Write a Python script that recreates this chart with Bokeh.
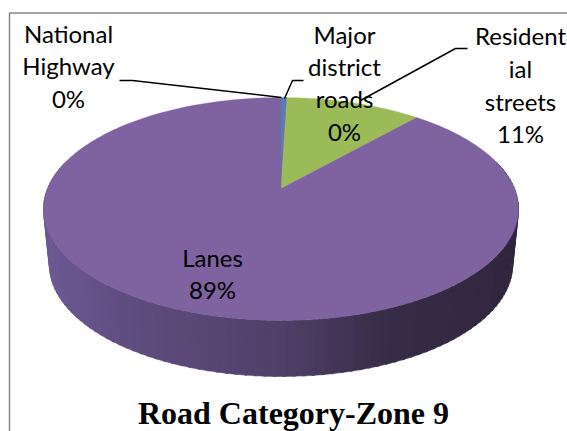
import math
from bokeh.plotting import figure
from bokeh.models import Range1d
from bokeh.core.properties import value
from bokeh.embed import file_html
from bokeh.resources import INLINE

categories = ["National Highway", "Major district roads", "Residential streets", "Lanes"]
values = [0.45, 0.05, 11.0, 88.5]
colors = ["#4F81BD", "#C0504D", "#9BBB59", "#7F63A1"]
title = "Road Category-Zone 9"

label_lines = [["National", "Highway", "0%"], ["Major", "district", "roads", "0%"],
               ["Resident", "ial", "streets", "11%"], ["Lanes", "89%"]]
label_x = [68, 344, 520, 212]
label_y = [[33, 65, 98], [34, 66, 98, 131], [35, 68, 101, 133], [257, 289]]
leaders = [([119, 132, 281], [80, 80, 97]), ([303, 292, 284], [80, 80, 98]),
           ([467, 455, 360], [48, 48, 100])]

CX, CY, A, B, K, DEPTH = 280.5, 188, 233.5, 107.7, 0.184, 56


def rim(deg, drop=0.0, squeeze=1.0):
    t = math.radians(deg)
    d = 1 + K * math.cos(t)
    return CX + squeeze * A * math.sin(t) / d, CY - B * math.cos(t) / d + drop


p = figure(width=567, height=431, output_backend="svg", toolbar_location=None,
           x_range=Range1d(0, 567), y_range=Range1d(431, 0), min_border=0)
p.axis.visible = False
p.grid.visible = False
p.outline_line_color = None
p.background_fill_color = "white"

# frame
p.line([567, 9, 9], [12.5, 12.5, 431], line_color="#868686", line_width=1.5)

# wall
stops = [(40, (110, 90, 148)), (120, (96, 77, 128)), (282, (80, 63, 104)),
         (380, (56, 45, 72)), (525, (48, 38, 62))]


def wall_color(x):
    for (x0, c0), (x1, c1) in zip(stops, stops[1:]):
        if x <= x1:
            f = max(0, (x - x0) / (x1 - x0))
            return "#%02x%02x%02x" % tuple(round(a + (b - a) * f) for a, b in zip(c0, c1))
    return "#%02x%02x%02x" % stops[-1][1]


xs, ys, cs = [], [], []
for i in range(75, 285, 2):
    a, b = rim(i), rim(i + 2.6)
    c, d = rim(i + 2.6, DEPTH, 0.975), rim(i, DEPTH, 0.975)
    xs.append([a[0], b[0], c[0], d[0]])
    ys.append([a[1], b[1], c[1], d[1]])
    cs.append(wall_color((a[0] + b[0]) / 2))
p.patches(xs, ys, fill_color=cs, line_color=cs, line_width=0.5)

# top face
total = sum(values)
start = 0.0
for v, col in zip(values, colors):
    end = start + v / total * 360
    n = max(2, int(end - start) + 2)
    pts = [rim(start + (end - start) * j / n) for j in range(n + 1)]
    p.patch([CX] + [q[0] for q in pts], [CY] + [q[1] for q in pts],
            fill_color=col, line_color=col, line_width=0.3)
    start = end

# leaders
for lx, ly in leaders:
    p.line(lx, ly, line_color="black", line_width=1.5)

# labels
for lines, x, yy in zip(label_lines, label_x, label_y):
    p.text([x] * len(lines), yy, text=lines, text_font=value("Lato"), text_font_size="24px",
           text_align="center", text_baseline="middle", text_color="black")

p.text([293], [412], text=[title], text_font=value("Liberation Serif"), text_font_size="32px",
       text_font_style="bold", text_align="center", text_baseline="middle", text_color="black")

open("out.html", "w").write(file_html(p, INLINE))
